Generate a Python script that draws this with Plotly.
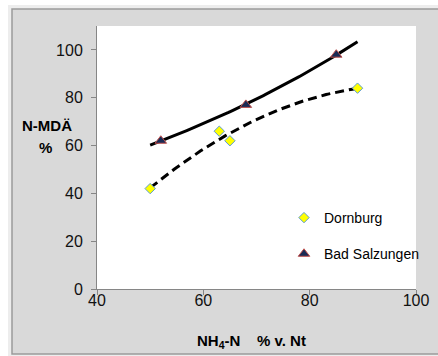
import numpy as np
import plotly.graph_objects as go

# ---- data ----
dornburg_x = [50, 63, 65, 89]
dornburg_y = [42, 66, 62, 84]
salz_x = [52, 68, 85]
salz_y = [62, 77, 98]
x_ticks = [40, 60, 80, 100]
y_ticks = [0, 20, 40, 60, 80, 100]
series_names = ["Dornburg", "Bad Salzungen"]

W, H = 438, 356
ML, MR, MT, MB = 97, 22, 26, 67
PW, PH = W - ML - MR, H - MT - MB


def px_x(X):
    return (X - ML) / PW


def px_y(Y):
    return (H - MB - Y) / PH


# trend lines (as in the spreadsheet: polynomial order 2 and exponential)
t_lo = min(dornburg_x + salz_x)
t_hi = max(dornburg_x + salz_x)
tx = np.linspace(t_lo, t_hi, 120)
poly = np.polyfit(dornburg_x, dornburg_y, 2)
dorn_trend = np.polyval(poly, tx)
b, lna = np.polyfit(salz_x, np.log(salz_y), 1)
salz_trend = np.exp(lna + b * tx)

FONT = "Liberation Sans, Arial, sans-serif"

fig = go.Figure()
fig.add_trace(go.Scatter(x=tx, y=dorn_trend, mode="lines", showlegend=False,
                         line=dict(color="black", width=3, dash="9px,5px"),
                         hoverinfo="skip"))
fig.add_trace(go.Scatter(x=tx, y=salz_trend, mode="lines", showlegend=False,
                         line=dict(color="black", width=3), hoverinfo="skip"))
fig.add_trace(go.Scatter(x=dornburg_x, y=dornburg_y, mode="markers",
                         name=series_names[0], legendgroup="a",
                         marker=dict(symbol="diamond", size=8, color="#ffff00",
                                     line=dict(color="#5b9bd5", width=1))))
fig.add_trace(go.Scatter(x=salz_x, y=salz_y, mode="markers",
                         name=series_names[1], legendgroup="b",
                         marker=dict(symbol="triangle-up", size=10, color="#1a2b55",
                                     line=dict(color="#c0504d", width=1))))

shapes = [
    dict(type="rect", xref="paper", yref="paper", layer="below",
         x0=px_x(8), x1=px_x(440), y0=px_y(358), y1=px_y(5),
         fillcolor="#ededed", line=dict(width=0)),
    dict(type="rect", xref="paper", yref="paper", layer="below",
         x0=px_x(12), x1=px_x(441), y0=px_y(354), y1=px_y(9),
         fillcolor="#d9d9d9", line=dict(color="#9a9a9a", width=1.5)),
    dict(type="rect", xref="paper", yref="paper", layer="below",
         x0=0, x1=1, y0=0, y1=1, fillcolor="white", line=dict(width=0)),
]

ann = [
    dict(text="<b>N-MDÄ</b>", x=px_x(47), y=px_y(125), xref="paper", yref="paper",
         showarrow=False, xanchor="center", yanchor="middle",
         font=dict(size=15, family=FONT, color="black")),
    dict(text="<b>%</b>", x=px_x(45.5), y=px_y(147), xref="paper", yref="paper",
         showarrow=False, xanchor="center", yanchor="middle",
         font=dict(size=15, family=FONT, color="black")),
    dict(text="<b>NH<sub>4</sub>-N\u00a0\u00a0\u00a0\u00a0% v. Nt</b>",
         x=px_x(251), y=px_y(341), xref="paper", yref="paper",
         showarrow=False, xanchor="center", yanchor="middle",
         font=dict(size=15, family=FONT, color="black")),
]

axis_common = dict(showgrid=False, zeroline=False, showline=True,
                   linecolor="#868686", linewidth=1, ticks="outside",
                   ticklen=5, tickcolor="#868686",
                   tickfont=dict(size=16, family=FONT, color="#111111"))

fig.update_layout(
    width=W, height=H,
    margin=dict(l=ML, r=MR, t=MT, b=MB, autoexpand=False),
    paper_bgcolor="white", plot_bgcolor="rgba(0,0,0,0)",
    xaxis=dict(range=[40, 100], tickvals=x_ticks, ticklabelstandoff=-8, **axis_common),
    yaxis=dict(range=[0, 110], tickvals=y_ticks, ticklabelstandoff=5, **axis_common),
    shapes=shapes, annotations=ann,
    legend=dict(xref="paper", yref="paper", x=px_x(284), y=px_y(202),
                xanchor="left", yanchor="top", bgcolor="rgba(0,0,0,0)",
                font=dict(size=14, family=FONT, color="black"),
                tracegroupgap=15),
    showlegend=True,
)

fig.write_html(
    "out.html", config={"displayModeBar": False},
    post_script=("document.body.style.margin='0';"
                 "document.body.style.overflow='hidden';"
                 "document.documentElement.style.overflow='hidden';"))
